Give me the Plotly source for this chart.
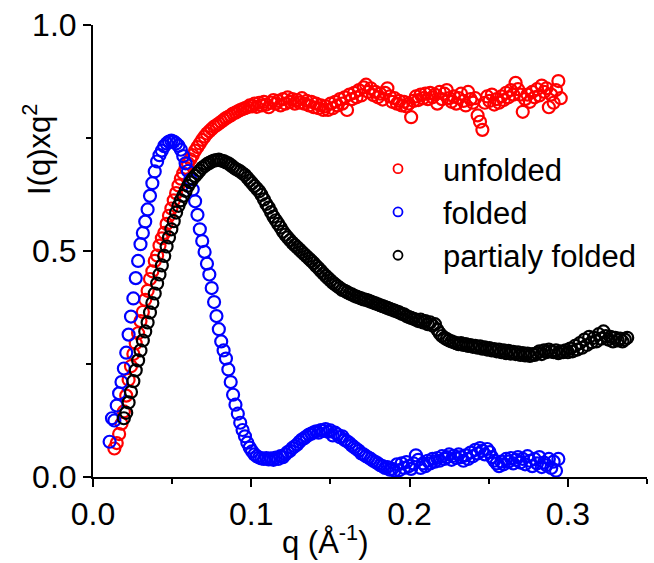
import plotly.graph_objects as go

# ---- data ----
# q grids: uniform sampling, start and step per series
q_step = 0.0015
folded_q0 = 0.0105
unfolded_q0 = 0.0135
partial_q0 = 0.0195

folded_I = [
    0.078, 0.130, 0.125, 0.158, 0.185, 0.210, 0.240, 0.275, 0.315, 0.355,
    0.395, 0.440, 0.478, 0.515, 0.540, 0.565, 0.592, 0.622, 0.650, 0.676,
    0.698, 0.712, 0.722, 0.732, 0.738, 0.742, 0.744, 0.742, 0.738, 0.733,
    0.724, 0.710, 0.694, 0.677, 0.658, 0.636, 0.610, 0.580, 0.548, 0.522,
    0.498, 0.472, 0.448, 0.418, 0.387, 0.356, 0.327, 0.300, 0.280, 0.262,
    0.238, 0.210, 0.182, 0.160, 0.140, 0.120, 0.104, 0.090, 0.076, 0.065,
    0.057, 0.050, 0.046, 0.043, 0.041, 0.040, 0.042, 0.039, 0.041, 0.038,
    0.043, 0.040, 0.046, 0.044, 0.050, 0.055, 0.058, 0.064, 0.068, 0.072,
    0.078, 0.083, 0.086, 0.090, 0.094, 0.096, 0.099, 0.101, 0.098, 0.104,
    0.102, 0.106, 0.100, 0.103, 0.092, 0.098, 0.094, 0.088, 0.090, 0.082,
    0.079, 0.075, 0.070, 0.066, 0.062, 0.058, 0.052, 0.050, 0.046, 0.043,
    0.040, 0.036, 0.033, 0.030, 0.026, 0.024, 0.020, 0.022, 0.016, 0.018,
    0.014, 0.028, 0.015, 0.030, 0.020, 0.033, 0.024, 0.018, 0.030, 0.048,
    0.038, 0.020, 0.030, 0.024, 0.036, 0.030, 0.040, 0.034, 0.042, 0.036,
    0.046, 0.040, 0.044, 0.050, 0.038, 0.047, 0.042, 0.050, 0.044, 0.036,
    0.048, 0.040, 0.054, 0.046, 0.060, 0.052, 0.064, 0.058, 0.050, 0.062,
    0.055, 0.044, 0.036, 0.030, 0.024, 0.034, 0.028, 0.040, 0.034, 0.042,
    0.030, 0.038, 0.044, 0.032, 0.040, 0.028, 0.046, 0.036, 0.024, 0.040,
    0.030, 0.044, 0.022, 0.032, 0.026, 0.040, 0.020, 0.034, 0.014, 0.040,
]

unfolded_I = [
    0.063, 0.075, 0.095, 0.118, 0.145, 0.180, 0.215, 0.245, 0.272, 0.296,
    0.318, 0.345, 0.365, 0.392, 0.412, 0.438, 0.455, 0.478, 0.490, 0.512,
    0.528, 0.540, 0.560, 0.578, 0.594, 0.612, 0.628, 0.645, 0.660, 0.672,
    0.684, 0.694, 0.703, 0.712, 0.722, 0.730, 0.738, 0.746, 0.753, 0.760,
    0.765, 0.770, 0.775, 0.778, 0.782, 0.786, 0.790, 0.794, 0.797, 0.800,
    0.804, 0.806, 0.809, 0.812, 0.814, 0.816, 0.818, 0.822, 0.820, 0.826,
    0.819, 0.828, 0.822, 0.830, 0.824, 0.818, 0.828, 0.834, 0.826, 0.832,
    0.822, 0.836, 0.826, 0.840, 0.830, 0.836, 0.826, 0.834, 0.828, 0.838,
    0.826, 0.832, 0.822, 0.830, 0.818, 0.826, 0.816, 0.822, 0.812, 0.820,
    0.812, 0.826, 0.816, 0.830, 0.822, 0.836, 0.826, 0.840, 0.812, 0.846,
    0.836, 0.850, 0.840, 0.856, 0.844, 0.862, 0.868, 0.852, 0.860, 0.845,
    0.852, 0.840, 0.848, 0.835, 0.850, 0.860, 0.842, 0.830, 0.838, 0.826,
    0.832, 0.822, 0.830, 0.820, 0.826, 0.796, 0.832, 0.842, 0.834, 0.846,
    0.838, 0.848, 0.836, 0.850, 0.840, 0.846, 0.826, 0.852, 0.836, 0.848,
    0.856, 0.838, 0.830, 0.842, 0.826, 0.838, 0.848, 0.832, 0.822, 0.852,
    0.836, 0.828, 0.838, 0.800, 0.786, 0.768, 0.828, 0.842, 0.832, 0.846,
    0.824, 0.836, 0.828, 0.842, 0.834, 0.850, 0.840, 0.856, 0.846, 0.872,
    0.858, 0.846, 0.808, 0.836, 0.846, 0.830, 0.852, 0.840, 0.858, 0.844,
    0.866, 0.852, 0.860, 0.818, 0.846, 0.828, 0.856, 0.876, 0.838,
]

partial_I = [
    0.130, 0.142, 0.165, 0.188, 0.212, 0.236, 0.258, 0.280, 0.302, 0.322,
    0.342, 0.364, 0.385, 0.406, 0.428, 0.448, 0.468, 0.489, 0.510, 0.530,
    0.548, 0.566, 0.585, 0.600, 0.612, 0.622, 0.633, 0.644, 0.652, 0.660,
    0.666, 0.672, 0.678, 0.684, 0.688, 0.692, 0.695, 0.698, 0.700, 0.701,
    0.702, 0.700, 0.699, 0.696, 0.694, 0.690, 0.686, 0.682, 0.679, 0.676,
    0.672, 0.668, 0.662, 0.656, 0.650, 0.644, 0.638, 0.632, 0.624, 0.614,
    0.604, 0.596, 0.586, 0.576, 0.568, 0.560, 0.552, 0.543, 0.536, 0.530,
    0.524, 0.518, 0.513, 0.508, 0.503, 0.498, 0.493, 0.488, 0.483, 0.478,
    0.473, 0.467, 0.462, 0.456, 0.450, 0.445, 0.440, 0.435, 0.430, 0.426,
    0.422, 0.418, 0.414, 0.412, 0.409, 0.406, 0.404, 0.401, 0.399, 0.397,
    0.395, 0.393, 0.392, 0.390, 0.388, 0.386, 0.384, 0.382, 0.380, 0.378,
    0.376, 0.374, 0.372, 0.370, 0.368, 0.366, 0.364, 0.361, 0.360, 0.356,
    0.354, 0.352, 0.350, 0.348, 0.345, 0.348, 0.342, 0.345, 0.338, 0.342,
    0.335, 0.338, 0.326, 0.318, 0.312, 0.308, 0.305, 0.302, 0.300, 0.298,
    0.296, 0.294, 0.296, 0.292, 0.294, 0.290, 0.292, 0.288, 0.290, 0.286,
    0.289, 0.284, 0.287, 0.282, 0.285, 0.280, 0.283, 0.278, 0.282, 0.276,
    0.280, 0.274, 0.279, 0.273, 0.277, 0.272, 0.276, 0.270, 0.274, 0.269,
    0.273, 0.268, 0.272, 0.270, 0.274, 0.278, 0.272, 0.280, 0.276, 0.282,
    0.278, 0.276, 0.280, 0.274, 0.278, 0.276, 0.280, 0.276, 0.284, 0.278,
    0.290, 0.282, 0.296, 0.286, 0.304, 0.292, 0.310, 0.298, 0.308, 0.300,
    0.316, 0.306, 0.322, 0.312, 0.304, 0.310, 0.300, 0.308, 0.302, 0.306,
    0.300, 0.304, 0.308,
]

series_names = ["unfolded", "folded", "partialy folded"]
series_colors = ["#ff0000", "#0000ff", "#000000"]
x_tick_vals = [0.0, 0.1, 0.2, 0.3]
x_tick_text = ["0.0", "0.1", "0.2", "0.3"]
y_tick_vals = [0.0, 0.5, 1.0]
y_tick_text = ["0.0", "0.5", "1.0"]


def grid(q0, n):
    return [round(q0 + q_step * i, 5) for i in range(n)]


series = [
    (grid(unfolded_q0, len(unfolded_I)), unfolded_I),
    (grid(folded_q0, len(folded_I)), folded_I),
    (grid(partial_q0, len(partial_I)), partial_I),
]

FONT = "Liberation Sans, Arial, sans-serif"
fig = go.Figure()

for (qs, vals), name, col in zip(series, series_names, series_colors):
    fig.add_trace(go.Scatter(
        x=qs, y=vals, mode="markers", name=name, showlegend=False,
        cliponaxis=False,
        marker=dict(symbol="circle-open", size=12, color=col,
                    line=dict(width=2.2, color=col)),
    ))

# legend entries (smaller symbols, like the reference legend)
for name, col in zip(series_names, series_colors):
    fig.add_trace(go.Scatter(
        x=[None], y=[None], mode="markers", name=name, showlegend=True,
        marker=dict(symbol="circle-open", size=9, color=col,
                    line=dict(width=1.8, color=col)),
    ))

axis_common = dict(
    showline=True, linecolor="black", linewidth=2,
    ticks="outside", ticklen=8, tickwidth=2, tickcolor="black",
    showgrid=False, zeroline=False, mirror=False,
    tickfont=dict(family=FONT, size=32, color="black"),
)

fig.update_xaxes(
    range=[0, 0.35], tickmode="array", tickvals=x_tick_vals, ticktext=x_tick_text,
    minor=dict(dtick=0.05, tick0=0, ticks="outside", ticklen=5, tickwidth=2,
               tickcolor="black", showgrid=False),
    **axis_common,
)
fig.update_yaxes(
    range=[0, 1.0], tickmode="array", tickvals=y_tick_vals, ticktext=y_tick_text,
    minor=dict(dtick=0.25, tick0=0, ticks="outside", ticklen=5, tickwidth=2,
               tickcolor="black", showgrid=False),
    **axis_common,
)

fig.add_annotation(
    text="q (Å<sup>-1</sup>)", xref="paper", yref="paper",
    x=(325 - 93) / 554, y=-(540 - 477) / 452, xanchor="center", yanchor="middle",
    showarrow=False, font=dict(family=FONT, size=31, color="black"),
)
fig.add_annotation(
    text="I(q)xq<sup>2</sup>", xref="paper", yref="paper",
    x=-(93 - 37) / 554, y=(477 - 150) / 452, xanchor="center", yanchor="middle",
    textangle=-90, showarrow=False,
    font=dict(family=FONT, size=31, color="black"),
)

fig.update_layout(
    width=654, height=563,
    margin=dict(l=93, r=7, t=25, b=86),
    paper_bgcolor="white", plot_bgcolor="white",
    showlegend=True,
    legend=dict(
        x=(353 - 93) / 554, y=(477 - 142) / 452, xanchor="left", yanchor="top",
        bgcolor="rgba(0,0,0,0)", borderwidth=0,
        font=dict(family=FONT, size=31, color="black"),
        itemwidth=80, tracegroupgap=0,
    ),
)

fig.write_html("out.html")
